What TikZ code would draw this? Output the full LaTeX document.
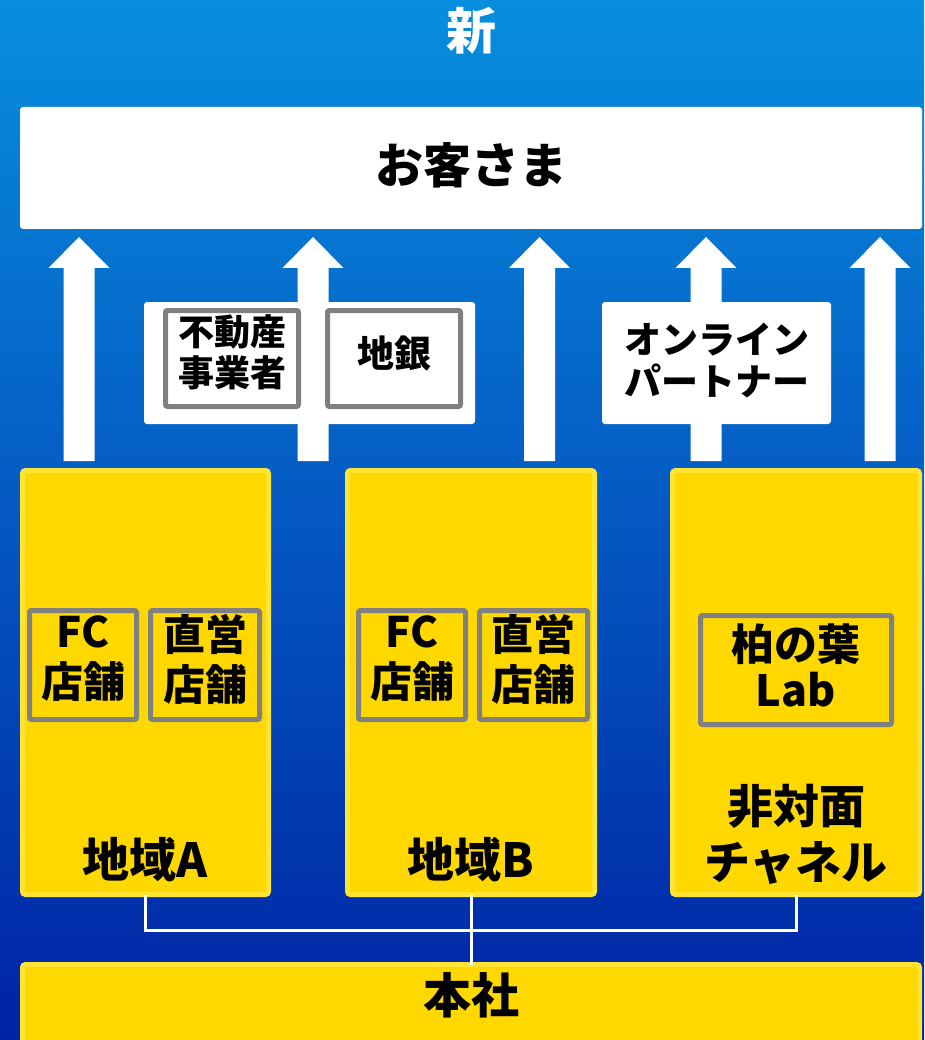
\documentclass[tikz,border=0pt]{standalone}
\usepackage{fontspec}
\setmainfont{Noto Sans CJK JP}
\definecolor{bgtop}{RGB}{8,142,222}
\definecolor{bgmid}{RGB}{0,80,196}
\definecolor{bgbot}{RGB}{0,34,164}
\definecolor{yel}{RGB}{255,216,0}
\definecolor{yelb}{RGB}{255,228,52}
\definecolor{boxgray}{RGB}{128,128,128}
\newcommand{\uparrowshape}[3]{%
  \fill[white] (#1-15.5,#3) -- (#1-15.5,#2+31) -- (#1-30.5,#2+31) -- (#1,#2)
    -- (#1+30.5,#2+31) -- (#1+15.5,#2+31) -- (#1+15.5,#3) -- cycle;}
\begin{document}
\begin{tikzpicture}[x=1pt,y=-1pt,
  whitebox/.style={fill=white, rounded corners=3pt, inner sep=0pt, outer sep=0pt},
  yelbox/.style={fill=yel, draw=yelb, line width=5pt, rounded corners=3pt, inner sep=0pt, outer sep=0pt},
  graybox/.style={draw=boxgray, line width=5pt, rounded corners=2pt, inner sep=0pt, outer sep=0pt},
  conn/.style={draw=white, line width=3pt},
  lbl/.style={align=center, inner sep=0pt, text=black}]
\useasboundingbox (0,0) rectangle (924,1040);
\shade[top color=bgtop, middle color=bgmid, bottom color=bgbot] (0,0) rectangle (924,1040);
% title
\node[lbl, text=white, font={\fontsize{50}{56}\selectfont\bfseries}] (title) at (471,31) {新};
% customer
\node[whitebox, minimum width=902pt, minimum height=122pt] (cust) at (471,168) {};
\node[lbl, font={\fontsize{48}{54}\selectfont\bfseries}] (custt) at (471,165) {お客さま};
% arrows
\uparrowshape{79}{237}{461}
\uparrowshape{313}{237}{461}
\uparrowshape{539.5}{237}{461}
\uparrowshape{706}{237}{461}
\uparrowshape{880}{237}{461}
% partner box 1
\node[whitebox, minimum width=331pt, minimum height=122pt] (pbox) at (309.5,363) {};
\node[graybox, fill=white, minimum width=133pt, minimum height=96pt] (fudo) at (232,358.5) {};
\node[lbl, font={\fontsize{36}{41}\selectfont\bfseries}] (fudot) at (232,352) {不動産\\事業者};
\node[graybox, fill=white, minimum width=133pt, minimum height=96pt] (chigin) at (394,358.5) {};
\node[lbl, font={\fontsize{37}{41}\selectfont\bfseries}] (chigint) at (394,353) {地銀};
% online partner
\node[whitebox, minimum width=229pt, minimum height=122pt] (online) at (716.5,363) {};
\node[lbl, font={\fontsize{37}{42}\selectfont\bfseries}] (onlinet) at (716.5,360) {オンライン\\パートナー};
% yellow areas
\node[yelbox, minimum width=246pt, minimum height=424pt] (areaA) at (145.5,682.5) {};
\node[yelbox, minimum width=247pt, minimum height=424pt] (areaB) at (471,682.5) {};
\node[yelbox, minimum width=247pt, minimum height=424pt] (areaC) at (796,682.5) {};
% area A stores
\node[graybox, minimum width=107pt, minimum height=109pt] (fcA) at (83,665) {};
\node[lbl, font={\fontsize{42}{50}\selectfont\bfseries}] (fcAt) at (83,659) {FC\\店舗};
\node[graybox, minimum width=109pt, minimum height=109pt] (chokA) at (205,665) {};
\node[lbl, font={\fontsize{42}{50}\selectfont\bfseries}] (chokAt) at (205,659) {直営\\店舗};
% area B stores
\node[graybox, minimum width=107pt, minimum height=109pt] (fcB) at (412,665) {};
\node[lbl, font={\fontsize{42}{50}\selectfont\bfseries}] (fcBt) at (412,659) {FC\\店舗};
\node[graybox, minimum width=108pt, minimum height=109pt] (chokB) at (533.5,665) {};
\node[lbl, font={\fontsize{42}{50}\selectfont\bfseries}] (chokBt) at (533.5,659) {直営\\店舗};
% lab
\node[graybox, minimum width=191pt, minimum height=109pt] (lab) at (796,670) {};
\node[lbl, font={\fontsize{43}{46}\selectfont\bfseries}] (labt) at (796,665) {柏の葉\\Lab};
% area labels
\node[lbl, font={\fontsize{47}{52}\selectfont\bfseries}] (areaAt) at (145.5,860) {地域A};
\node[lbl, font={\fontsize{47}{52}\selectfont\bfseries}] (areaBt) at (471,860) {地域B};
\node[lbl, font={\fontsize{46}{56}\selectfont\bfseries}] (areaCt) at (796,834) {非対面\\チャネル};
% head office
\node[yelbox, minimum width=897pt, minimum height=90pt] (hq) at (471,1009.5) {};
\node[lbl, font={\fontsize{48}{54}\selectfont\bfseries}] (hqt) at (471,995) {本社};
% connectors
\coordinate (jA) at (145.5,930);
\coordinate (jC) at (796,930);
\draw[conn] (areaA.south) -- (jA) -- (jC) -- (areaC.south);
\draw[conn] (areaB.south) -- (hq.north);
\end{tikzpicture}
\end{document}
